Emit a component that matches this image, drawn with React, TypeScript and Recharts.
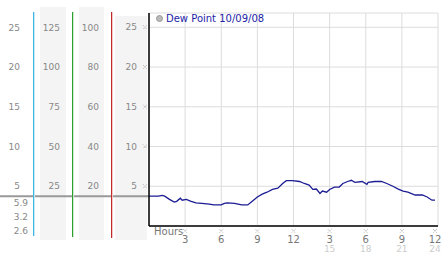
import React from "react";
import {
  ComposedChart,
  Line,
  XAxis,
  YAxis,
  CartesianGrid,
  Legend,
  ReferenceLine,
} from "recharts";

// readings (hours since midnight, dew point)
const hours = [
  0, 0.8, 1.1, 1.3, 1.7, 2.1, 2.3, 2.6, 2.75, 3.1, 3.5, 3.9, 4.4, 5.0, 5.4, 6.0, 6.25, 6.5, 7.1, 7.7,
  8.2, 8.6, 9.0, 9.4, 9.8, 10.25, 10.7, 11.1, 11.4, 11.9, 12.5, 12.9, 13.3, 13.6, 13.9, 14.2, 14.4,
  14.75, 15.0, 15.4, 15.8, 16.1, 16.5, 16.8, 17.1, 17.7, 18.1, 18.2, 18.75, 19.3, 19.75, 20.25, 20.7,
  21.1, 21.5, 22.1, 22.7, 23.1, 23.5, 23.75,
];
const dewPoint = [
  3.75, 3.75, 3.85, 3.75, 3.35, 3.0, 3.1, 3.5, 3.25, 3.35, 3.1, 2.9, 2.85, 2.75, 2.65, 2.65, 2.85, 2.9,
  2.85, 2.65, 2.65, 3.15, 3.65, 4.0, 4.25, 4.6, 4.75, 5.35, 5.7, 5.7, 5.6, 5.35, 5.15, 4.6, 4.65, 4.1,
  4.4, 4.25, 4.6, 4.9, 4.9, 5.35, 5.6, 5.75, 5.5, 5.6, 5.25, 5.5, 5.6, 5.6, 5.35, 5.0, 4.65, 4.4, 4.25,
  3.9, 3.9, 3.65, 3.25, 3.25,
];

const hourTicks = [0, 3, 6, 9, 12, 15, 18, 21, 24];
const dewTicks = [5, 10, 15, 20, 25];
const col2Ticks = [25, 50, 75, 100, 125];
const col3Ticks = [20, 40, 60, 80, 100];
const statLabels = ["5.9", "3.2", "2.6"];
const legendLabel = "Dew Point 10/09/08";

const data = hours.map((h, i) => ({ h, dew: dewPoint[i] }));

const FONT = "'DejaVu Sans', Verdana, sans-serif";

function Marker({ x, y }: { x: number; y: number }) {
  return (
    <g stroke="#aaa" strokeWidth={1}>
      <line x1={x - 2} y1={y - 2} x2={x + 2} y2={y + 2} strokeDasharray="1 1" />
      <line x1={x + 2} y1={y - 2} x2={x - 2} y2={y + 2} strokeDasharray="1 1" />
    </g>
  );
}

function HourTick(props: any) {
  const { x, y, payload } = props;
  const v = payload.value;
  if (v === 0) {
    return (
      <text x={x + 5} y={y + 7} fontSize={10} fontFamily={FONT} fill="#777" textAnchor="start">
        Hours
      </text>
    );
  }
  const top = v > 12 ? v - 12 : v;
  const cx = v === 24 ? x - 3 : x;
  return (
    <g>
      <Marker x={cx} y={y + 3} />
      <text x={cx} y={y + 15} fontSize={10} fontFamily={FONT} fill="#777" textAnchor="middle">
        {top}
      </text>
      {v > 12 && (
        <text x={cx} y={y + 24} fontSize={9} fontFamily={FONT} fill="#ccc" textAnchor="middle">
          {v}
        </text>
      )}
    </g>
  );
}

function DewTick(props: any) {
  const { x, y, payload } = props;
  return (
    <g>
      <text x={x} y={y} dy="0.35em" fontSize={9} fontFamily={FONT} fill="#888" textAnchor="end">
        {payload.value}
      </text>
      <Marker x={x + 8} y={y} />
    </g>
  );
}

const colTick = { fontSize: 9, fontFamily: FONT, fill: "#888" };

export default function App() {
  return (
    <div style={{ position: "relative", width: 442, height: 253, background: "#fff" }}>
      <style>{"body{margin:0}"}</style>
      {/* column backgrounds */}
      <div style={{ position: "absolute", left: 40, top: 7, width: 26, height: 233, background: "#f4f4f4" }} />
      <div style={{ position: "absolute", left: 79, top: 7, width: 25, height: 233, background: "#f4f4f4" }} />
      <div style={{ position: "absolute", left: 115, top: 16, width: 32, height: 224, background: "#f4f4f4" }} />
      {/* stats under first column */}
      {statLabels.map((s, i) => (
        <div
          key={s}
          style={{
            position: "absolute",
            right: 442 - 28,
            top: 197 + i * 14,
            fontSize: 9,
            fontFamily: FONT,
            color: "#888",
            lineHeight: "12px",
          }}
        >
          {s}
        </div>
      ))}
      <div style={{ position: "absolute", left: 0, top: 0 }}>
        <ComposedChart
          width={442}
          height={253}
          data={data}
          margin={{ top: 13, right: 4, bottom: 0, left: 0 }}
        >
          <CartesianGrid yAxisId="1" stroke="#dcdcdc" strokeWidth={1} />
          <XAxis
            dataKey="h"
            type="number"
            domain={[0, 24]}
            ticks={hourTicks}
            height={27}
            axisLine={{ stroke: "#000", strokeWidth: 1.5 }}
            tickLine={false}
            tickSize={0}
            tick={<HourTick />}
            interval={0}
          />
          {/* main axis, next to the plot */}
          <YAxis
            yAxisId="1"
            type="number"
            domain={[0, 26.8]}
            ticks={dewTicks}
            width={38}
            axisLine={{ stroke: "#000", strokeWidth: 1.5 }}
            tickLine={false}
            tickSize={0}
            tickMargin={12}
            tick={<DewTick />}
            allowDataOverflow
          />
          <YAxis
            yAxisId="2"
            type="number"
            domain={[0, 107.2]}
            ticks={col3Ticks}
            width={39}
            axisLine={false}
            tickLine={false}
            tickSize={0}
            tickMargin={12}
            tick={colTick}
            allowDataOverflow
          />
          <YAxis
            yAxisId="3"
            type="number"
            domain={[0, 134]}
            ticks={col2Ticks}
            width={39}
            axisLine={false}
            tickLine={false}
            tickSize={0}
            tickMargin={12}
            tick={colTick}
            allowDataOverflow
          />
          <YAxis
            yAxisId="4"
            type="number"
            domain={[0, 26.8]}
            ticks={dewTicks}
            width={33}
            axisLine={false}
            tickLine={false}
            tickSize={0}
            tickMargin={13}
            tick={colTick}
            allowDataOverflow
          />
          <ReferenceLine
            yAxisId="1"
            y={dewPoint[0]}
            stroke="#999"
            shape={(p: any) => (
              <line x1={0} x2={p.x1} y1={p.y1} y2={p.y1} stroke="#999" strokeWidth={2} />
            )}
          />
          <Legend
            verticalAlign="middle"
            layout="horizontal"
            align="center"
            wrapperStyle={{ position: "absolute", top: 13, left: 156, width: 200, height: 14 }}
            content={() => (
              <div style={{ display: "flex", alignItems: "center", fontFamily: FONT, fontSize: 10, color: "#2323a8" }}>
                <span
                  style={{
                    display: "inline-block",
                    width: 5,
                    height: 5,
                    borderRadius: 4,
                    background: "#bbb",
                    border: "1px solid #999",
                    marginRight: 3,
                  }}
                />
                {legendLabel}
              </div>
            )}
          />
          <Line
            yAxisId="1"
            dataKey="dew"
            type="linear"
            stroke="#1c1c94"
            strokeWidth={1.3}
            dot={false}
            isAnimationActive={false}
          />
        </ComposedChart>
      </div>
      {/* colored dividers */}
      <div style={{ position: "absolute", left: 33, top: 12, width: 1, height: 224, background: "#3cb8e0", boxShadow: "1px 0 0 #c8eaf5" }} />
      <div style={{ position: "absolute", left: 72, top: 12, width: 1, height: 225, background: "#2e9e2e", boxShadow: "1px 0 0 #cde8cd" }} />
      <div style={{ position: "absolute", left: 111, top: 12, width: 1, height: 226, background: "#c02a2a", boxShadow: "1px 0 0 #f0c8c8" }} />
    </div>
  );
}
